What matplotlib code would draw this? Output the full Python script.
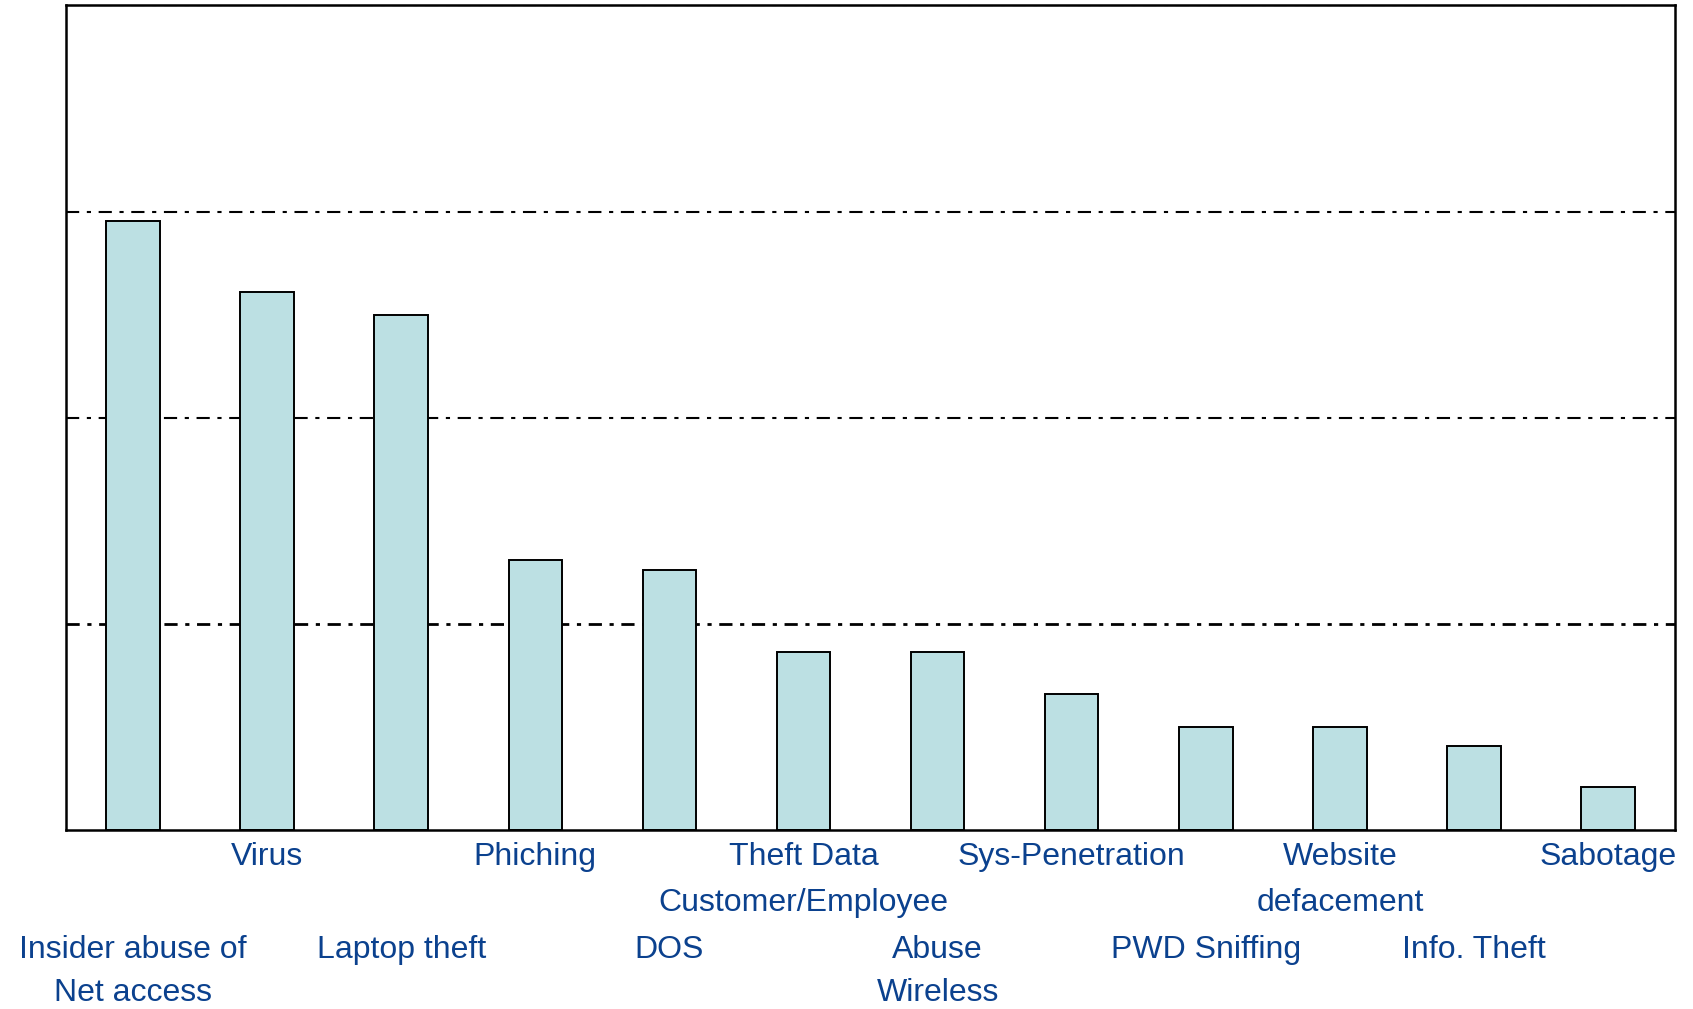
import numpy as np
import matplotlib.pyplot as plt

plt.rcParams['font.family'] = ['Liberation Sans', 'DejaVu Sans']
plt.rcParams['lines.scale_dashes'] = False

categories = ["Insider abuse of\nNet access", "Virus", "Laptop theft", "Phiching", "DOS",
              "Theft Data\nCustomer/Employee", "Abuse\nWireless", "Sys-Penetration",
              "PWD Sniffing", "Website\ndefacement", "Info. Theft", "Sabotage"]
values = [73.8, 65.2, 62.5, 32.7, 31.5, 21.6, 21.6, 16.5, 12.5, 12.5, 10.2, 5.2]
grid_levels = [25, 50, 75, 100]

text_blue = '#0b418e'
bar_fill = '#bce0e3'

fig = plt.figure(figsize=(16.93, 10.09), dpi=100)
ax = fig.add_axes([0.039, 0.1774, 0.9504, 0.8172])

x = np.arange(len(categories))
for g in grid_levels:
    ax.axhline(g, color='black', lw=2.0 if g == 25 else 1.5,
               ls=(0, (9.5, 5.5, 3, 5.5)), zorder=1)

ax.bar(x, values, width=0.4, color=bar_fill, edgecolor='black', linewidth=1.4, zorder=2)

ax.set_xlim(-0.5, 11.5)
ax.set_ylim(0, 100)
ax.set_xticks([])
ax.set_yticks([])
for s in ax.spines.values():
    s.set_linewidth(1.8)
    s.set_color('black')

# staggered labels: odd bars on the upper rows, even bars lower
# baseline of each text row, in pixels below the x axis
row_base = [35, 81, 128, 171]
for i, lab in enumerate(categories):
    start = 0 if i % 2 == 1 else 2
    for k, line in enumerate(lab.split('\n')):
        off = -row_base[start + k]
        ax.annotate(line, xy=(x[i], 0), xycoords=('data', 'axes fraction'),
                    xytext=(0, off * 72 / 100), textcoords='offset points',
                    ha='center', va='baseline', fontsize=23, color=text_blue,
                    annotation_clip=False)

fig.savefig('out.png', dpi=100)
